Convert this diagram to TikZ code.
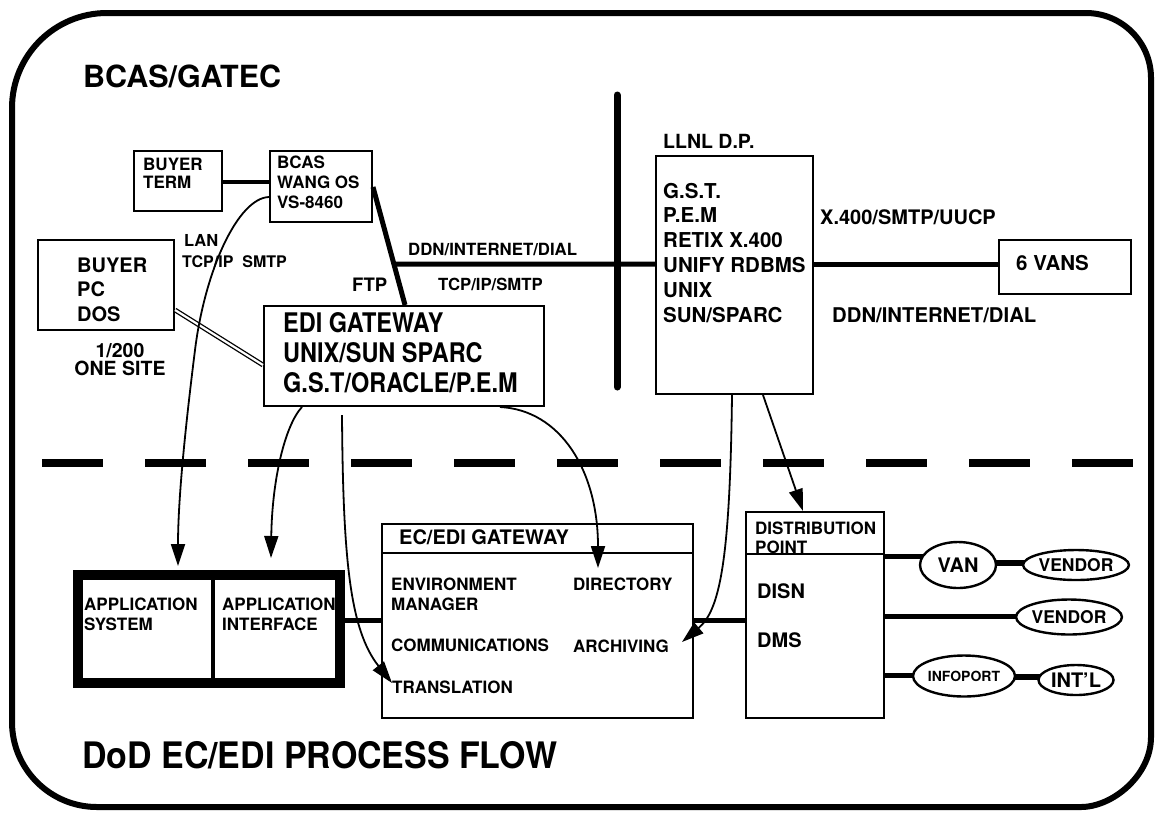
\documentclass[tikz,border=0pt]{standalone}
\usepackage{fontspec}
\setmainfont{TeX Gyre Heros}
\newfontfamily\narrowA{TeX Gyre Heros}[FakeStretch=0.87]
\newfontfamily\narrowB{TeX Gyre Heros}[FakeStretch=0.93]
\usetikzlibrary{arrows.meta,shapes.geometric,backgrounds,calc}

\tikzset{
  f/.style={font=\bfseries\fontsize{#1}{#1}\selectfont},
  lbl/.style={anchor=base west, inner sep=0pt},
  clbl/.style={anchor=base, inner sep=0pt},
  box/.style={draw, line width=2pt, inner sep=0pt, anchor=north west},
  ell/.style={draw, ellipse, line width=2.4pt, fill=white, inner sep=0pt},
  thickc/.style={line width=5pt},
  dbl/.style={line width=1.3pt, double=white, double distance=2.2pt},
  arr/.style={line width=1.8pt, -{Triangle[length=22pt,width=14pt]}},
  frame/.style={line width=6pt, line join=round},
}

\begin{document}
\begin{tikzpicture}[x=1pt,y=-1pt]
\useasboundingbox (0,0) rectangle (1158,815);
\begin{scope}[on background layer]
  \fill[white] (0,0) rectangle (1158,815);
\end{scope}

% ---------- headings ----------
\node[lbl,f=30.5] (head) at (83,87) {BCAS/GATEC};
\node[lbl,font=\narrowB\bfseries\fontsize{36.5}{36.5}\selectfont] (foot) at (82,768) {DoD EC/EDI PROCESS FLOW};

% ---------- upper part: BCAS / GATEC ----------
\node[box, minimum width=88pt, minimum height=60pt] (bterm) at (133,150) {};
\foreach \s [count=\i] in {BUYER,TERM}
  \node[lbl,f=17] (bterm-t\i) at (143,{170+18*(\i-1)}) {\s};

\node[box, minimum width=102pt, minimum height=71pt] (bcas) at (269,150) {};
\foreach \s [count=\i] in {BCAS,WANG OS,VS-8460}
  \node[lbl,f=17] (bcas-t\i) at (277,{168+20*(\i-1)}) {\s};

\node[box, minimum width=136pt, minimum height=90pt] (bpc) at (37,239) {};
\foreach \s [count=\i] in {BUYER,PC,DOS}
  \node[lbl,f=20] (bpc-t\i) at (77,{272+24.5*(\i-1)}) {\s};
\node[clbl,f=19.5] (site1) at (120,357) {1/200};
\node[clbl,f=19.5] (site2) at (120,375) {ONE SITE};

\node[lbl,f=16.5] (lan1) at (184,246) {LAN};
\node[lbl,f=16] (lan2) at (182,267) {TCP/IP\hspace{9pt}SMTP};
\node[lbl,f=18.5] (ftp) at (352,291) {FTP};
\node[lbl,f=16.8] (ddn1) at (408,255) {DDN/INTERNET/DIAL};
\node[lbl,f=16.7] (tcp1) at (438,290) {TCP/IP/SMTP};

\node[box, minimum width=280pt, minimum height=100pt] (edi) at (263,305) {};
\foreach \s [count=\i] in {EDI GATEWAY,UNIX/SUN SPARC,G.S.T/ORACLE/P.E.M}
  \node[lbl,font=\narrowA\bfseries\fontsize{27}{27}\selectfont] (edi-t\i) at (283,{332+30*(\i-1)}) {\s};

\node[lbl,f=19.5] (llnl-head) at (663,148) {LLNL D.P.};
\node[box, minimum width=157pt, minimum height=238pt] (llnl) at (655,155) {};
\foreach \s [count=\i] in {G.S.T.,P.E.M,RETIX X.400,UNIFY RDBMS,UNIX,SUN/SPARC}
  \node[lbl,f=20.5] (llnl-t\i) at (663,{198+24.8*(\i-1)}) {\s};

\node[lbl,f=20] (x400) at (820,224) {X.400/SMTP/UUCP};
\node[lbl,f=20.3] (ddn2) at (832,322) {DDN/INTERNET/DIAL};
\node[box, minimum width=132pt, minimum height=54pt] (vans) at (998,239) {};
\node[lbl,f=20.5] (vans-t) at (1016,270) {6 VANS};

% upper connectors
\draw[line width=4pt] (bterm.east |- 0,182) -- (bcas.west |- 0,182);
\coordinate (ftptop) at (bcas.east |- 0,187);
\coordinate (ftpbot) at ($(edi.north west)+(142,0)$);
\draw[thickc] (ftptop) -- (ftpbot);
\draw[thickc] ($(ftptop)!0.653!(ftpbot)$) -- (llnl.west |- 0,264);
\draw[thickc] (llnl.east |- 0,264) -- (vans.west |- 0,264);
\draw[dbl] (bpc.east |- 0,310) -- (edi.west |- 0,365);
\coordinate (bbtop) at (617,95);
\coordinate (bbbot) at (617,387);
\draw[line width=7pt, line cap=round] (bbtop) -- (bbbot);

% ---------- divider ----------
\coordinate (divL) at (42,463);
\coordinate (divR) at (1135,463);
\draw[line width=8.5pt, dash pattern=on 61pt off 42pt] (divL) -- (divR);

% ---------- lower part: DoD ----------
\foreach \s [count=\i] in {APPLICATION,SYSTEM}
  \node[lbl,f=17] (as-t\i) at (84,{610+20*(\i-1)}) {\s};
\foreach \s [count=\i] in {APPLICATION,INTERFACE}
  \node[lbl,f=17] (ai-t\i) at (222,{610+20*(\i-1)}) {\s};
\node[draw, line width=10pt, inner sep=0pt, anchor=north west,
      minimum width=262pt, minimum height=108pt] (app) at (73,570) {};
\draw[line width=4pt] (app.north -| 213,0) -- (app.south -| 213,0);

\node[box, minimum width=311pt, minimum height=194pt] (ecedi) at (381,523) {};
\draw[line width=2pt] (ecedi.west |- 0,553) -- (ecedi.east |- 0,553);
\node[lbl,f=20] (ecedi-head) at (399,544) {EC/EDI GATEWAY};
\node[lbl,f=17] (env1) at (391,590) {ENVIRONMENT};
\node[lbl,f=17] (env2) at (391,610) {MANAGER};
\node[lbl,f=17] (comm) at (391,651) {COMMUNICATIONS};
\node[lbl,f=17] (transl) at (392,693) {TRANSLATION};
\node[lbl,f=17] (direc) at (573,590) {DIRECTORY};
\node[lbl,f=17] (archiv) at (573,652) {ARCHIVING};

\node[box, minimum width=138pt, minimum height=206pt] (dist) at (745,511) {};
\node[lbl,f=17] (dist-t1) at (755,534) {DISTRIBUTION};
\node[lbl,f=17] (dist-t2) at (755,553) {POINT};
\draw[line width=2pt] (dist.west |- 0,554) -- (dist.east |- 0,554);
\node[lbl,f=20] (disn) at (757,598) {DISN};
\node[lbl,f=20] (dms) at (757,647) {DMS};

\node[ell, minimum width=76pt, minimum height=46pt, f=20] (van) at (958,565) {VAN};
\node[ell, minimum width=82pt, minimum height=30pt, f=17.5] (vendor1) at (1076,565) {VENDOR};
\node[ell, minimum width=78pt, minimum height=35pt, f=17.5] (vendor2) at (1069,617) {VENDOR};
\node[ell, minimum width=80pt, minimum height=41pt, f=14] (infoport) at (964,676) {INFOPORT};
\node[ell, minimum width=75pt, minimum height=30pt, f=20] (intl) at (1076,680) {INT\char39{}L};

\begin{scope}[on background layer]
  \draw[thickc] (dist.east |- 0,556) -- (van.center |- 0,556);
  \draw[line width=6pt] (van.center |- 0,563) -- (vendor1.center |- 0,563);
  \draw[thickc] (dist.east |- 0,616) -- (vendor2.center |- 0,616);
  \draw[thickc] (dist.east |- 0,675) -- (infoport.center |- 0,675);
  \draw[line width=6pt] (infoport.center |- 0,677) -- (intl.center |- 0,677);
\end{scope}

\draw[thickc] (app.east |- 0,620) -- (ecedi.west |- 0,620);
\draw[thickc] (ecedi.east |- 0,620) -- (dist.west |- 0,620);

% ---------- flow arrows ----------
\draw[arr] (bcas.west |- 0,197) .. controls (238,198) and (205,270) .. (195,350)
           .. controls (185,430) and (178,500) .. ($(app.north -| 178,0)+(0,-4)$);
\draw[arr] (edi.south -| 302,0) .. controls (285,425) and (272,480) .. ($(app.north -| 271,0)+(0,-12)$);
\draw[arr] ($(edi.south -| 342,0)+(0,8)$) .. controls (343,560) and (350,630) .. (transl.west |- 0,683);
\draw[arr] (edi.south -| 500,0) .. controls (560,410) and (598,470) .. (598,568);
\draw[arr] (llnl.south -| 732,0) .. controls (730,560) and (720,610) .. (682,642);
\draw[arr] (llnl.south -| 763,0) -- (dist.north -| 803,0);

% ---------- outer frame ----------
\draw[frame] (12,108) .. controls (12,55.5) and (54.5,13) .. (107,13)
  -- (1086,13) .. controls (1121.9,13) and (1151,42.1) .. (1151,78)
  -- (1151,737) .. controls (1151,775.7) and (1112.3,807) .. (1081,807)
  -- (97,807) .. controls (50.1,807) and (12,768.9) .. (12,722)
  -- cycle;
\end{tikzpicture}
\end{document}
